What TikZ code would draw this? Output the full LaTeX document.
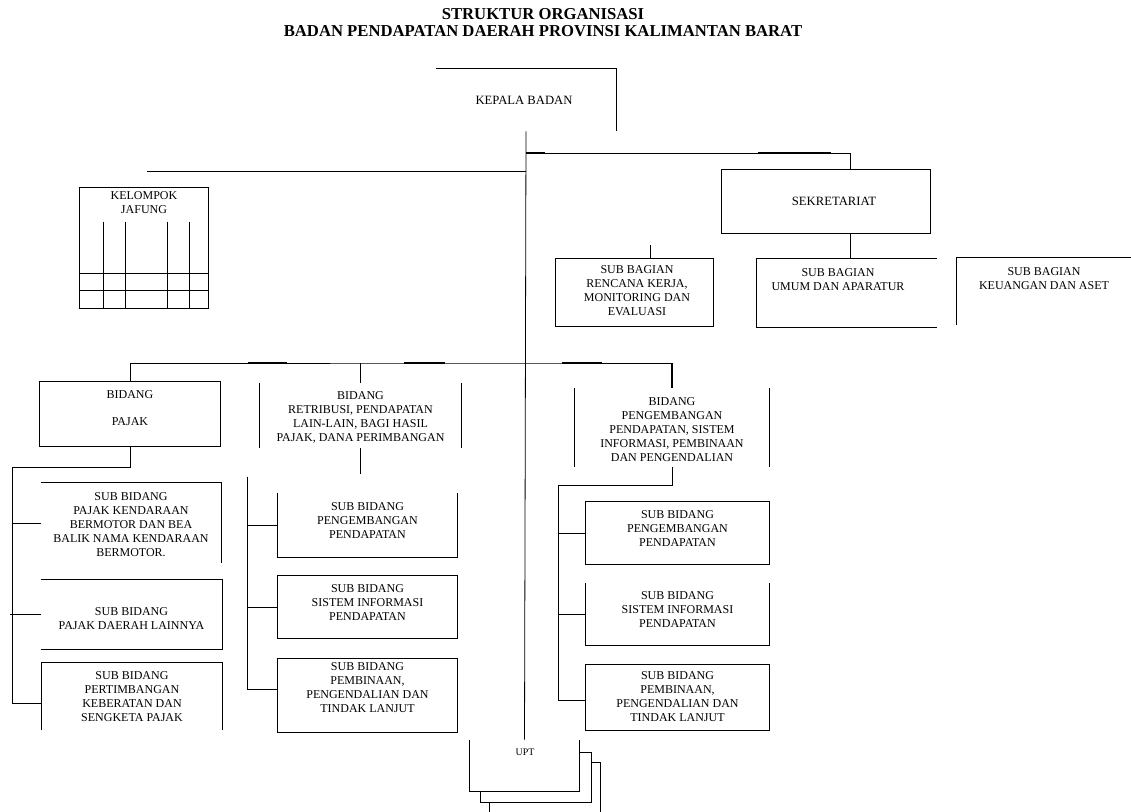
\documentclass[tikz,border=0pt]{standalone}
\usepackage{fontspec}
\setmainfont{Liberation Serif}

\tikzset{
  box/.style 2 args={rectangle, inner sep=0pt, minimum width=#1*0.75pt, minimum height=#2*0.75pt},
  txt/.style={align=center, inner sep=0pt, font=\fontsize{9}{10.5}\selectfont},
  judul/.style={align=center, inner sep=0pt, font=\fontsize{12.5}{12.8}\selectfont\bfseries},
  tebal/.style={line width=1.5pt},
}

\begin{document}
\begin{tikzpicture}[x=0.75pt,y=-0.75pt,line width=0.6pt]
\useasboundingbox (0,0) rectangle (1131,812);

% judul
\node[judul] (judul) at (543,22.5) {STRUKTUR ORGANISASI\\BADAN PENDAPATAN DAERAH PROVINSI KALIMANTAN BARAT};

% kepala badan
\node[box={180}{62}] (kepala) at (526,100) {};
\node[txt, font=\fontsize{9.5}{11}\selectfont] (kepala-t) at (524,100) {KEPALA BADAN};
\draw (kepala.north west) -- (kepala.north east) -- (kepala.south east);

% kelompok jafung
\node[box={128}{120}] (jafung) at (144,248) {};
\node[txt] (jafung-t) at (144,203) {KELOMPOK\\JAFUNG};
\draw (jafung.north west) rectangle (jafung.south east);
\foreach \x in {103,125,167,189} \draw (\x,222) -- (\x,308);
\foreach \y in {273,290} \draw (80,\y) -- (208,\y);

% sekretariat
\node[box={208}{63}] (sek) at (826,201.5) {};
\node[txt, font=\fontsize{9.5}{11}\selectfont] (sek-t) at (834,201.5) {SEKRETARIAT};
\draw (sek.north west) rectangle (sek.south east);

\node[box={157}{67}] (rk) at (634.5,292.5) {};
\node[txt] (rk-t) at (637,290.5) {SUB BAGIAN\\RENCANA KERJA,\\MONITORING DAN\\EVALUASI};
\draw (rk.north west) rectangle (rk.south east);

\node[box={180}{68}] (umum) at (847,293) {};
\node[txt] (umum-t) at (838,280) {SUB BAGIAN\\UMUM DAN APARATUR};
\draw (umum.north east) -- (umum.north west) -- (umum.south west) -- (umum.south east);

\node[box={174}{67}] (uang) at (1044,291.5) {};
\node[txt] (uang-t) at (1044,278.5) {SUB BAGIAN\\KEUANGAN DAN ASET};
\draw (uang.north east) -- (uang.north west) -- (uang.south west);

% bidang
\node[box={180}{64}] (pajak) at (130,414) {};
\node[txt] (pajak-t) at (130,408.5) {BIDANG\\[9.75pt]PAJAK};
\draw (pajak.north west) rectangle (pajak.south east);

\node[box={201}{65}] (retri) at (360.5,415.5) {};
\node[txt] (retri-t) at (360.5,417) {BIDANG\\RETRIBUSI, PENDAPATAN\\LAIN-LAIN, BAGI HASIL\\PAJAK, DANA PERIMBANGAN};
\draw (retri.north west) -- (retri.south west) (retri.north east) -- (retri.south east);

\node[box={194}{79}] (kembang) at (672,427.5) {};
\node[txt] (kembang-t) at (672,429.5) {BIDANG\\PENGEMBANGAN\\PENDAPATAN, SISTEM\\INFORMASI, PEMBINAAN\\DAN PENGENDALIAN};
\draw (kembang.north west) -- (kembang.south west) (kembang.north east) -- (kembang.south east);

% sub bidang pajak
\node[box={180}{80}] (pjk1) at (131,523) {};
\node[txt] (pjk1-t) at (131,525) {SUB BIDANG\\PAJAK KENDARAAN\\BERMOTOR DAN BEA\\BALIK NAMA KENDARAAN\\BERMOTOR.};
\draw (pjk1.north west) -- (pjk1.north east) -- (pjk1.south east);

\node[box={181}{69}] (pjk2) at (131.5,614.5) {};
\node[txt] (pjk2-t) at (131.5,619) {SUB BIDANG\\PAJAK DAERAH LAINNYA};
\draw (pjk2.south west) -- (pjk2.south east) -- (pjk2.north east) -- (pjk2.north west);

\node[box={180}{67}] (pjk3) at (132,696.5) {};
\node[txt] (pjk3-t) at (132,696.5) {SUB BIDANG\\PERTIMBANGAN\\KEBERATAN DAN\\SENGKETA PAJAK};
\draw (pjk3.south west) -- (pjk3.north west) -- (pjk3.north east) -- (pjk3.south east);

% sub bidang retribusi
\node[box={179}{64}] (rtb1) at (367.5,525) {};
\node[txt] (rtb1-t) at (367.5,520.5) {SUB BIDANG\\PENGEMBANGAN\\PENDAPATAN};
\draw (rtb1.north west) -- (rtb1.south west) -- (rtb1.south east) -- (rtb1.north east);

\node[box={179}{62}] (rtb2) at (367.5,607) {};
\node[txt] (rtb2-t) at (367.5,602.5) {SUB BIDANG\\SISTEM INFORMASI\\PENDAPATAN};
\draw (rtb2.north west) rectangle (rtb2.south east);

\node[box={179}{73}] (rtb3) at (367.5,695.5) {};
\node[txt] (rtb3-t) at (367.5,688) {SUB BIDANG\\PEMBINAAN,\\PENGENDALIAN DAN\\TINDAK LANJUT};
\draw (rtb3.north west) rectangle (rtb3.south east);

% sub bidang pengembangan
\node[box={183}{62}] (kbg1) at (677.5,533) {};
\node[txt] (kbg1-t) at (677.5,528.5) {SUB BIDANG\\PENGEMBANGAN\\PENDAPATAN};
\draw (kbg1.north west) rectangle (kbg1.south east);

\node[box={183}{62}] (kbg2) at (677.5,614) {};
\node[txt] (kbg2-t) at (677.5,609.5) {SUB BIDANG\\SISTEM INFORMASI\\PENDAPATAN};
\draw (kbg2.north west) -- (kbg2.south west) -- (kbg2.south east) -- (kbg2.north east);

\node[box={183}{65}] (kbg3) at (677.5,697.5) {};
\node[txt] (kbg3-t) at (677.5,697) {SUB BIDANG\\PEMBINAAN,\\PENGENDALIAN DAN\\TINDAK LANJUT};
\draw (kbg3.north west) rectangle (kbg3.south east);

% upt
\node[box={109}{51}] (upt) at (524.5,765.5) {};
\node[txt, font=\fontsize{7.5}{9}\selectfont] (upt-t) at (525,752) {UPT};
\draw (upt.north west) -- (upt.south west) -- (upt.south east) -- (upt.north east);
\draw (579,752) -- (591,752) -- (591,802) -- (480,802) -- (480,791);
\draw (591,762) -- (600,762) -- (600,816) -- (489,816) -- (489,802);

% garis hubung
\coordinate (jsek) at (526,153);
\coordinate (jkiri) at (147,171);
\coordinate (jbid) at (526,363);
\coordinate (jpjk) at (12,467);
\coordinate (jrtb) at (247,477);
\coordinate (jkbg) at (558,485);
\draw (kepala.south) -- (upt.north);
\draw (jsek) -| ([xshift=18pt]sek.north);
\draw (jkiri) -- (jkiri -| kepala.south);
\draw ([xshift=18pt]sek.south) -- ([xshift=18pt]sek.south |- umum.north);
\draw ([xshift=11.6pt]rk.north) -- ++(0,-14);
\draw (pajak.north) |- (jbid) -| (kembang.north);
\draw (retri.north) -- (retri.north |- jbid);
\draw (retri.south) -- ++(0,26);
\draw (pajak.south) |- (jpjk) |- ([yshift=-4.9pt]pjk3.west);
\draw (jpjk) |- (pjk1.west);
\draw ([xshift=-1.5pt]jpjk |- pjk2.west) -- (pjk2.west);
\draw (jrtb) |- (rtb1.west);
\draw (jrtb) |- (rtb2.west);
\draw (jrtb) |- ([yshift=4.9pt]rtb3.west);
\draw (kembang.south) |- (jkbg) |- (kbg1.west);
\draw (jkbg) |- (kbg2.west);
\draw (jkbg) |- ([yshift=-1.9pt]kbg3.west);

% bagian garis yang tebal
\foreach \a/\b/\y in {526/545/153, 758/831/153, 248/287/363, 404/445/363, 562/602/363}
  \draw[tebal] (\a,\y) -- (\b,\y);
\draw[tebal] (kembang.north) -- (kembang.north |- jbid);
\end{tikzpicture}
\end{document}
